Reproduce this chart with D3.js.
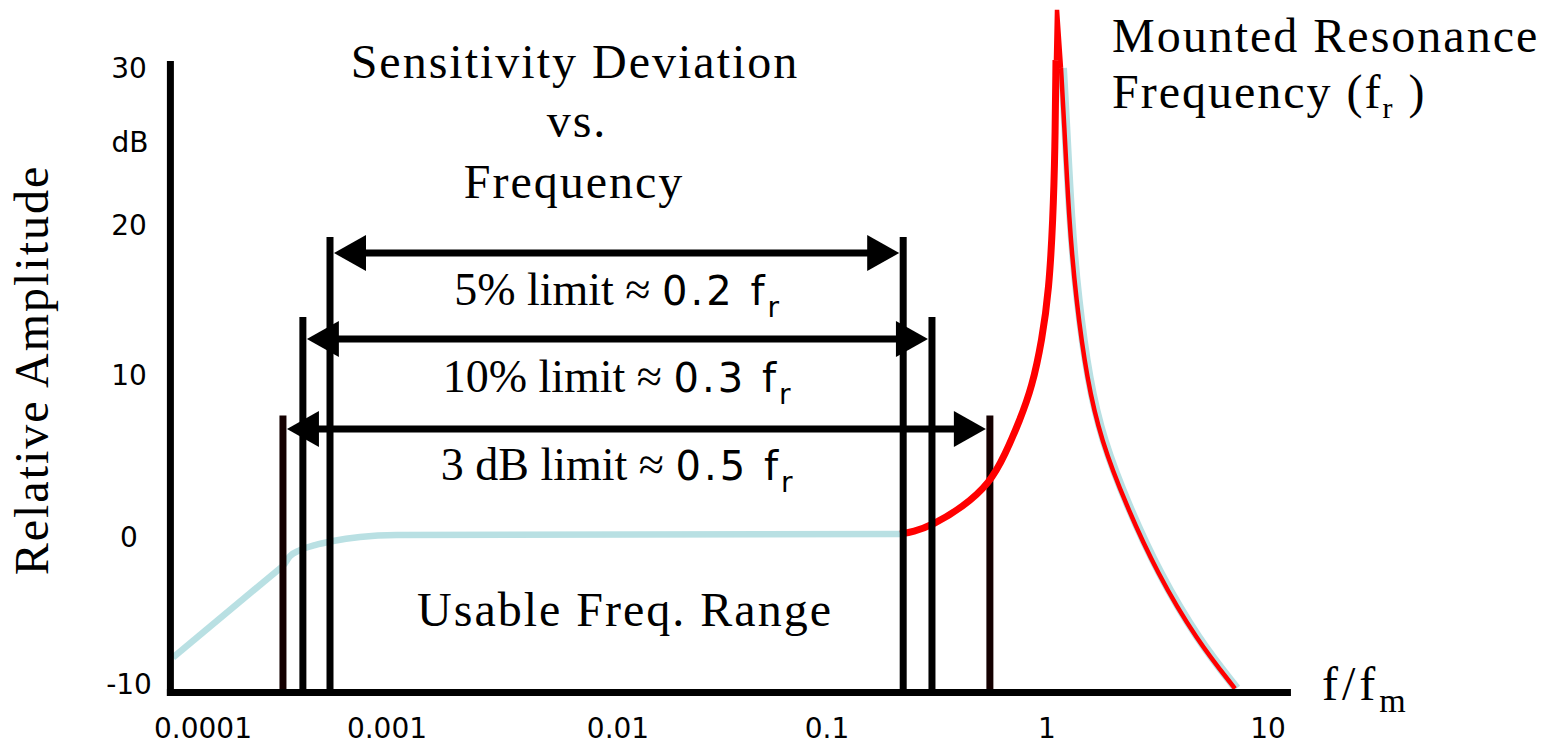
<!DOCTYPE html>
<html>
<head>
<meta charset="utf-8">
<script src="https://cdn.jsdelivr.net/npm/d3@7"></script>
<style>
  body { margin: 0; background: #fff; }
  .serif { font-family: "Liberation Serif", "Times New Roman", serif; }
  .sans { font-family: "DejaVu Sans", sans-serif; }
</style>
</head>
<body>
<div id="chart"></div>
<script>
(function(d3) {
  'use strict';

  var width = 1562;
  var height = 748;

  // axes
  var xTicks = [0.0001, 0.001, 0.01, 0.1, 1, 10];
  var xTickLabels = ['0.0001', '0.001', '0.01', '0.1', '1', '10'];
  var yTicks = [-10, 0, 10, 20, 30];
  var xFloor = 6.65e-5, xCeil = 12.7;    // where the axis lines stop
  var yFloor = -10.6, yCeil = 30.45;

  // light blue response: straight roll-off, then knee into the flat part
  var rollFreq = [6.87e-5, 2.75e-4];
  var rollDb   = [-8.21, -1.92];
  var kneeFreq = [2.75e-4, 2.97e-4, 3.37e-4, 4.06e-4, 5.09e-4, 7.13e-4, 1.1e-3, 0.215];
  var kneeDb   = [-1.92, -1.30, -0.89, -0.55, -0.27, 0.0, 0.12, 0.19];

  // red response rising to resonance
  var redUpFreq = [0.215, 0.246, 0.303, 0.415, 0.55, 0.644, 0.753, 0.855, 0.949, 1.021, 1.064, 1.087, 1.098];
  var redUpDb   = [0.19, 0.31, 0.74, 1.85, 3.33, 5.06, 7.22, 9.26, 12.33, 15.67, 20.33, 24.78, 30.5];

  // resonance spike
  var peakFreq = [1.098, 1.11, 1.157];
  var peakDb   = [30.5, 33.7, 30];

  // falling side after resonance
  var redDownFreq = [1.157, 1.194, 1.257, 1.353, 1.517, 1.755, 2.277, 3.15, 4.77, 7.09];
  var redDownDb   = [30, 26.7, 20.33, 15.0, 9.69, 5.99, 1.98, -2.46, -7.05, -10.33];

  // usable range limits
  var limitNames  = ['5%', '10%', '3 dB'];
  var limitValues = ['0.2', '0.3', '0.5'];
  var limitLow    = [4.9e-4, 3.49e-4, 2.72e-4];
  var limitHigh   = [0.222, 0.30, 0.55];
  var limitTop    = [19.2, 13.87, 7.5];
  var arrowDb     = [18.13, 12.4, 6.67];
  var labelDb     = [14.67, 8.95, 3.52];

  var blue = '#b9e0e3';
  var red = '#ff0000';
  var lineW = 7;

  var x = d3.scaleLog()
    .domain(xTicks)
    .range([203, 387, 618, 827, 1047, 1268]);

  var y = d3.scaleLinear()
    .domain([yFloor, 0, 10, 20, 30])
    .range([692.5, 537, 375, 225, 68]);

  var svg = d3.select('#chart')
    .append('svg')
    .attr('width', width)
    .attr('height', height);

  function makeLine(curve) {
    return d3.line()
      .x(function(d) { return x(d[0]); })
      .y(function(d) { return y(d[1]); })
      .curve(curve);
  }
  var line = makeLine(d3.curveLinear);
  var smooth = makeLine(d3.curveBasis);
  var flat = makeLine(d3.curveMonotoneX);

  function pairs(a, b) { return a.map(function(v, i) { return [v, b[i]]; }); }

  // blue curve (low end)
  svg.append('path')
    .attr('d', line(pairs(rollFreq, rollDb)))
    .attr('fill', 'none')
    .attr('stroke', blue)
    .attr('stroke-width', 6.5);
  svg.append('path')
    .attr('d', flat(pairs(kneeFreq, kneeDb)))
    .attr('fill', 'none')
    .attr('stroke', blue)
    .attr('stroke-width', 6.5);

  // blue under the falling red branch
  svg.append('path')
    .attr('d', smooth(pairs(redDownFreq, redDownDb)))
    .attr('transform', 'translate(1.5,0)')
    .attr('fill', 'none')
    .attr('stroke', blue)
    .attr('stroke-width', 9);

  // 3 dB limit lines sit under the red curve
  function limitLines(idx, color) {
    idx.forEach(function(i) {
      [limitLow[i], limitHigh[i]].forEach(function(f) {
        svg.append('line')
          .attr('x1', x(f)).attr('x2', x(f))
          .attr('y1', y(limitTop[i])).attr('y2', y(yFloor))
          .attr('stroke', color)
          .attr('stroke-width', lineW);
      });
    });
  }
  limitLines([2], '#140000');

  svg.append('path')
    .attr('d', smooth(pairs(redUpFreq, redUpDb)))
    .attr('fill', 'none')
    .attr('stroke', red)
    .attr('stroke-width', 7);

  svg.append('path')
    .attr('d', line(pairs(peakFreq, peakDb)))
    .attr('fill', 'none')
    .attr('stroke', red)
    .attr('stroke-width', 4.5);

  svg.append('path')
    .attr('d', smooth(pairs(redDownFreq, redDownDb)))
    .attr('fill', 'none')
    .attr('stroke', red)
    .attr('stroke-width', 4.5);

  limitLines([0, 1], '#000');

  // axes
  svg.append('line')
    .attr('x1', x(xFloor)).attr('x2', x(xFloor))
    .attr('y1', y(yCeil)).attr('y2', y(yFloor) + lineW / 2)
    .attr('stroke', '#000').attr('stroke-width', lineW);
  svg.append('line')
    .attr('x1', x(xFloor) - lineW / 2).attr('x2', x(xCeil))
    .attr('y1', y(yFloor)).attr('y2', y(yFloor))
    .attr('stroke', '#000').attr('stroke-width', lineW);

  // arrows
  var headL = 32, headH = 18, inset = 4;
  limitNames.forEach(function(name, i) {
    var xl = x(limitLow[i]) + inset;
    var xr = x(limitHigh[i]) - inset;
    var ya = y(arrowDb[i]);
    svg.append('line')
      .attr('x1', xl + headL - 2).attr('x2', xr - headL + 2)
      .attr('y1', ya).attr('y2', ya)
      .attr('stroke', '#000').attr('stroke-width', lineW);
    svg.append('path')
      .attr('d', 'M' + xl + ',' + ya + 'L' + (xl + headL) + ',' + (ya - headH) +
                 'L' + (xl + headL) + ',' + (ya + headH) + 'Z')
      .attr('fill', '#000');
    svg.append('path')
      .attr('d', 'M' + xr + ',' + ya + 'L' + (xr - headL) + ',' + (ya - headH) +
                 'L' + (xr - headL) + ',' + (ya + headH) + 'Z')
      .attr('fill', '#000');
  });

  // limit labels
  var labelX = (x(limitLow[0]) + x(limitHigh[0])) / 2;
  limitNames.forEach(function(name, i) {
    var t = svg.append('text')
      .attr('x', labelX)
      .attr('y', y(labelDb[i]))
      .attr('text-anchor', 'middle');
    t.append('tspan').attr('class', 'serif')
      .style('font-size', '46px')
      .text(name + ' limit \u2248 ');
    t.append('tspan').attr('class', 'sans')
      .style('font-size', '40px')
      .style('letter-spacing', '3px')
      .text(limitValues[i] + ' f');
    t.append('tspan').attr('class', 'sans')
      .style('font-size', '28px')
      .attr('dy', 12)
      .text('r');
  });

  // tick labels
  svg.selectAll('.xtick')
    .data(xTicks)
    .enter().append('text')
    .attr('class', 'xtick sans')
    .attr('x', function(d) { return x(d); })
    .attr('y', 738)
    .attr('text-anchor', 'middle')
    .style('font-size', '28px')
    .text(function(d, i) { return xTickLabels[i]; });

  svg.selectAll('.ytick')
    .data(yTicks)
    .enter().append('text')
    .attr('class', 'ytick sans')
    .attr('x', 129)
    .attr('y', function(d) { return y(d) + 10; })
    .attr('text-anchor', 'middle')
    .style('font-size', '28px')
    .text(function(d) { return d; });

  svg.append('text')
    .attr('class', 'sans')
    .attr('x', 130).attr('y', 152)
    .attr('text-anchor', 'middle')
    .style('font-size', '28px')
    .text('dB');

  // titles
  var serifText = function(str, xx, yy, anchor) {
    return svg.append('text')
      .attr('class', 'serif')
      .attr('x', xx).attr('y', yy)
      .attr('text-anchor', anchor)
      .style('font-size', '48px')
      .style('letter-spacing', '2px')
      .text(str);
  };

  serifText('Sensitivity Deviation', 575, 78, 'middle');
  serifText('vs.', 577, 137, 'middle');
  serifText('Frequency', 574, 198, 'middle');
  serifText('Usable Freq. Range', 625, 626, 'middle');
  serifText('Mounted Resonance', 1112, 52, 'start');

  var fr = serifText('Frequency (f', 1112, 108, 'start');
  fr.append('tspan').style('font-size', '30px').attr('dy', 10).text('r');
  fr.append('tspan').attr('dy', -10).text(' )');

  var fm = serifText('f/f', 1322, 700, 'start');
  fm.style('letter-spacing', '4px');
  fm.append('tspan').style('font-size', '34px').style('letter-spacing', '0px')
    .attr('dy', 12).text('m');

  svg.append('text')
    .attr('class', 'serif')
    .attr('transform', 'translate(48,370) rotate(-90)')
    .attr('text-anchor', 'middle')
    .style('font-size', '48px')
    .style('letter-spacing', '2px')
    .text('Relative Amplitude');

})(window.d3);
</script>
</body>
</html>
